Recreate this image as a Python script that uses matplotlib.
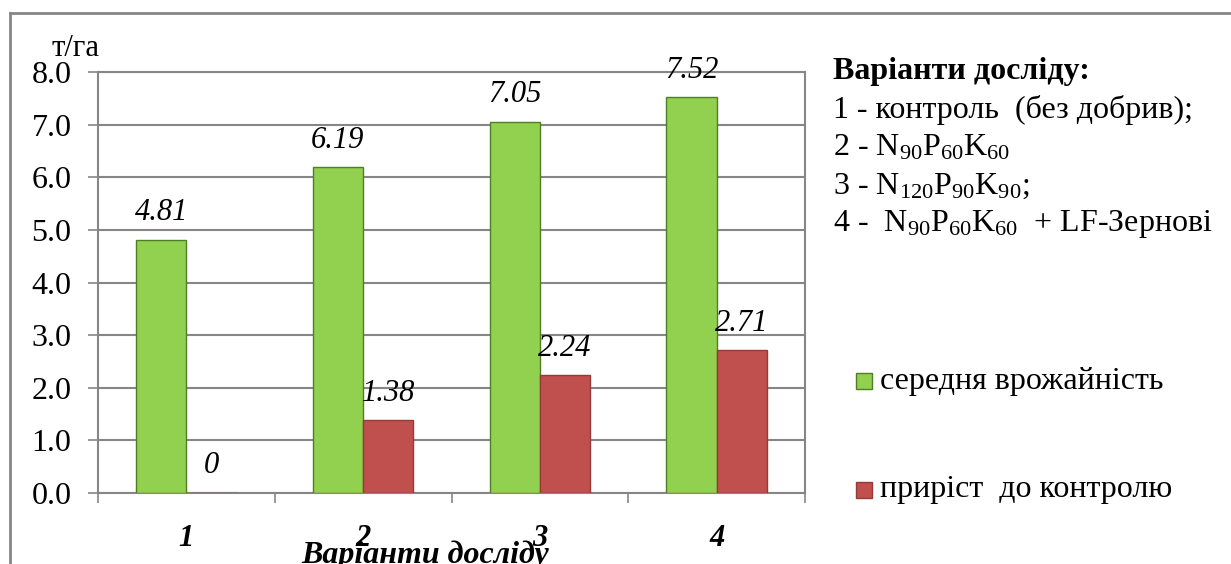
import numpy as np
import matplotlib.pyplot as plt
from matplotlib.lines import Line2D
from matplotlib.patches import Rectangle

plt.rcParams['font.family'] = ['Liberation Serif', 'DejaVu Serif']
plt.rcParams['mathtext.fontset'] = 'custom'
plt.rcParams['mathtext.rm'] = 'Liberation Serif'
plt.rcParams['mathtext.it'] = 'Liberation Serif:italic'
plt.rcParams['mathtext.bf'] = 'Liberation Serif:bold'

variants = ['1', '2', '3', '4']
yield_avg = [4.81, 6.19, 7.05, 7.52]
gain = [0, 1.38, 2.24, 2.71]
series_names = ['середня врожайність', 'приріст  до контролю']
legend_title = 'Варіанти досліду:'
legend_lines = [
    '1 - контроль  (без добрив);',
    '2 - N$_{90}$P$_{60}$K$_{60}$',
    '3 - N$_{120}$P$_{90}$K$_{90}$;',
    '4 -  N$_{90}$P$_{60}$K$_{60}$  + LF-Зернові',
]

green, green_edge = '#92D050', '#4F7F22'
red, red_edge = '#C0504D', '#963A37'
grid_gray = '#868686'

W, H = 1231, 564
fig = plt.figure(figsize=(W / 100, H / 100), dpi=100)
ax = fig.add_axes([98 / W, (H - 493) / H, (805 - 98) / W, (493 - 72) / H])

x = np.arange(len(variants))
bw = 0.285
b1 = ax.bar(x - bw / 2, yield_avg, bw, color=green, edgecolor=green_edge, linewidth=1, zorder=3)
b2 = ax.bar(x + bw / 2, gain, bw, color=red, edgecolor=red_edge, linewidth=1, zorder=3)

for bars, vals in ((b1, yield_avg), (b2, gain)):
    for rect, v in zip(bars, vals):
        lbl = '0' if v == 0 else f'{v:.2f}'
        ax.annotate(lbl, (rect.get_x() + rect.get_width() / 2, v),
                    xytext=(0, 19.5), textcoords='offset points',
                    ha='center', va='center', fontsize=22, style='italic', zorder=4)

ax.set_xlim(-0.5, len(variants) - 0.5)
ax.set_ylim(0, 8)
ax.set_yticks(np.arange(0, 8.1, 1.0))
ax.set_yticklabels([f'{v:.1f}' for v in np.arange(0, 8.1, 1.0)], fontsize=23)
ax.tick_params(axis='y', length=7, width=1.2, color=grid_gray, pad=12)
ax.yaxis.grid(True, color=grid_gray, linewidth=1.5, zorder=0)

ax.set_xticks(x)
ax.set_xticklabels(variants, fontsize=22, fontweight='bold', style='italic')
ax.tick_params(axis='x', which='major', length=0, pad=22)
ax.set_xticks(np.arange(-0.5, len(variants)), minor=True)
ax.tick_params(axis='x', which='minor', length=7, width=1.2, color=grid_gray)

for s in ax.spines.values():
    s.set_color(grid_gray)
    s.set_linewidth(1.5)

fig.text(75 / W, 1 - 49 / H, 'т/га', fontsize=22, ha='center', va='center')
fig.text(425 / W, 1 - 540 / H, 'Варіанти досліду', fontsize=23, fontweight='bold',
         style='italic', ha='center', va='top')

# caption of the variants on the right
fig.text(833 / W, 1 - 72 / H, legend_title, fontsize=23, fontweight='bold', va='center')
for i, line in enumerate(legend_lines):
    fig.text(833 / W, 1 - (110 + 38 * i) / H, line, fontsize=23, va='center')

# legend squares
for yy, col, ec, name in ((381, green, green_edge, series_names[0]),
                          (490, red, red_edge, series_names[1])):
    fig.add_artist(Rectangle((856 / W, 1 - (yy + 8) / H), 16 / W, 16 / H,
                             facecolor=col, edgecolor=ec, linewidth=1,
                             transform=fig.transFigure))
    fig.text(880 / W, 1 - yy / H, name, fontsize=23, va='center')

# outer frame
fig.add_artist(Line2D([10 / W, 10 / W], [0, 1 - 13 / H], color=grid_gray, linewidth=2,
                      transform=fig.transFigure))
fig.add_artist(Line2D([10 / W, 1], [1 - 13 / H, 1 - 13 / H], color=grid_gray, linewidth=2,
                      transform=fig.transFigure))

fig.savefig('out.png', dpi=100)
